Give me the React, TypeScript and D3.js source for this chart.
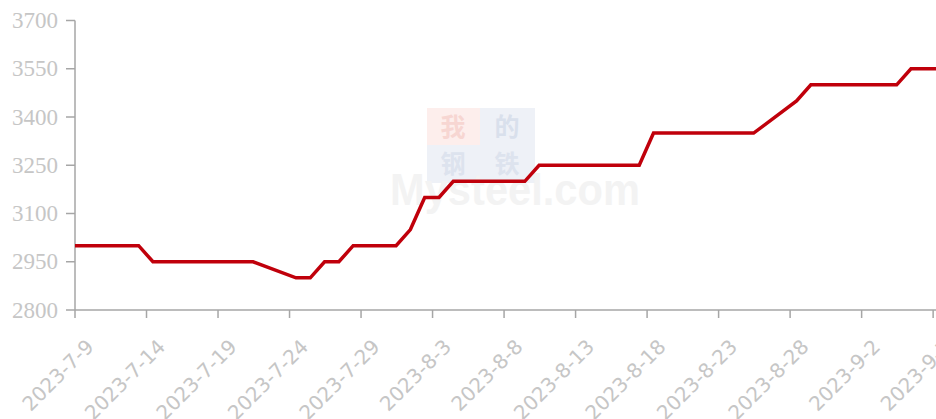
import React from "react";
import * as d3 from "d3";

const dates: string[] = [
  "2023-07-07", "2023-07-10", "2023-07-11", "2023-07-12", "2023-07-13", "2023-07-14",
  "2023-07-17", "2023-07-18", "2023-07-19", "2023-07-20", "2023-07-21",
  "2023-07-24", "2023-07-25", "2023-07-26", "2023-07-27", "2023-07-28",
  "2023-07-31", "2023-08-01", "2023-08-02", "2023-08-03", "2023-08-04",
  "2023-08-07", "2023-08-08", "2023-08-09", "2023-08-10", "2023-08-11",
  "2023-08-14", "2023-08-15", "2023-08-16", "2023-08-17", "2023-08-18",
  "2023-08-21", "2023-08-22", "2023-08-23", "2023-08-24", "2023-08-25",
  "2023-08-28", "2023-08-29", "2023-08-30", "2023-08-31", "2023-09-01",
  "2023-09-04", "2023-09-05", "2023-09-06", "2023-09-07", "2023-09-08",
];
const prices: number[] = [
  3000, 3000, 3000, 3000, 3000, 2950,
  2950, 2950, 2950, 2950, 2950,
  2900, 2900, 2950, 2950, 3000,
  3000, 3050, 3150, 3150, 3200,
  3200, 3200, 3200, 3250, 3250,
  3250, 3250, 3250, 3250, 3350,
  3350, 3350, 3350, 3350, 3350,
  3450, 3500, 3500, 3500, 3500,
  3500, 3550, 3550, 3550, 3550,
];
const xTickLabels: string[] = [
  "2023-7-9", "2023-7-14", "2023-7-19", "2023-7-24", "2023-7-29", "2023-8-3",
  "2023-8-8", "2023-8-13", "2023-8-18", "2023-8-23", "2023-8-28", "2023-9-2", "2023-9-7",
];
const yTicks: number[] = [2800, 2950, 3100, 3250, 3400, 3550, 3700];

const DAY = 86400000;
const start = new Date(2023, 6, 9).getTime();
const dataOffsetDays = 0.45;

const left = 75;
const right = 936;
const top = 20.5;
const bottom = 310;

export default function App() {
  const x = d3.scaleLinear().domain([0, 60.2]).range([left, right]);
  const y = d3.scaleLinear().domain([2800, 3700]).range([bottom, top]);

  const pts = dates.map((s, i) => {
    const [yy, mm, dd] = s.split("-").map(Number);
    const t = new Date(yy, mm - 1, dd).getTime();
    return { d: Math.round((t - start) / DAY) + dataOffsetDays, v: prices[i] };
  });
  const line = d3
    .line<{ d: number; v: number }>()
    .x((p) => x(p.d))
    .y((p) => y(p.v));

  const tickDays = xTickLabels.map((_, i) => i * 5);

  return (
    <svg width={936} height={419} style={{ position: "absolute", left: 0, top: 0, background: "#fff" }}>
      <defs>
        <clipPath id="plot">
          <rect x={left} y={0} width={right - left} height={bottom + 5} />
        </clipPath>
      </defs>
      {/* watermark */}
      <g>
        <rect x={427} y={108} width={53} height={37} fill="#fdeeec" />
        <rect x={480} y={108} width={55} height={37} fill="#eef1f7" />
        <rect x={427} y={145} width={53} height={38} fill="#eef1f7" />
        <rect x={480} y={145} width={55} height={38} fill="#eef1f7" />
        <text x={453} y={136} textAnchor="middle" fontSize={25} fill="#f7d6d2" fontFamily="Noto Sans CJK SC" fontWeight={700}>我</text>
        <text x={507} y={136} textAnchor="middle" fontSize={25} fill="#d9e0ec" fontFamily="Noto Sans CJK SC" fontWeight={700}>的</text>
        <text x={453} y={173} textAnchor="middle" fontSize={25} fill="#dde3ee" fontFamily="Noto Sans CJK SC" fontWeight={700}>钢</text>
        <text x={507} y={173} textAnchor="middle" fontSize={25} fill="#dde3ee" fontFamily="Noto Sans CJK SC" fontWeight={700}>铁</text>
        <text x={390} y={205} fontSize={44} fill="#f3f3f3" fontFamily="Liberation Sans" fontWeight={700} textLength={250} lengthAdjust="spacingAndGlyphs">Mysteel.com</text>
      </g>

      {/* y axis */}
      <line x1={left} x2={left} y1={top} y2={bottom} stroke="#a6a6a6" strokeWidth={1.5} />
      {yTicks.map((t) => (
        <g key={t}>
          <line x1={left - 9} x2={left} y1={y(t)} y2={y(t)} stroke="#a6a6a6" strokeWidth={1.5} />
          <text
            x={58}
            y={y(t)}
            textAnchor="end"
            dominantBaseline="central"
            fontFamily="Liberation Serif"
            fontSize={23}
            fill="#c6c6c6"
          >
            {t}
          </text>
        </g>
      ))}

      {/* x axis */}
      <line x1={left} x2={right} y1={bottom} y2={bottom} stroke="#a6a6a6" strokeWidth={1.5} />
      {tickDays.map((td, i) => (
        <g key={i}>
          <line x1={x(td)} x2={x(td)} y1={bottom} y2={bottom + 8} stroke="#a6a6a6" strokeWidth={1.5} />
          <text
            transform={`translate(${x(td) + 15},${bottom + 33}) rotate(-45)`}
            textAnchor="end"
            dominantBaseline="central"
            fontFamily="DejaVu Sans"
            fontSize={20}
            fill="#c6c6c6"
          >
            {xTickLabels[i]}
          </text>
        </g>
      ))}

      <path
        d={line(pts) || ""}
        fill="none"
        stroke="#c0000b"
        strokeWidth={3.5}
        strokeLinejoin="miter"
        clipPath="url(#plot)"
      />
    </svg>
  );
}
